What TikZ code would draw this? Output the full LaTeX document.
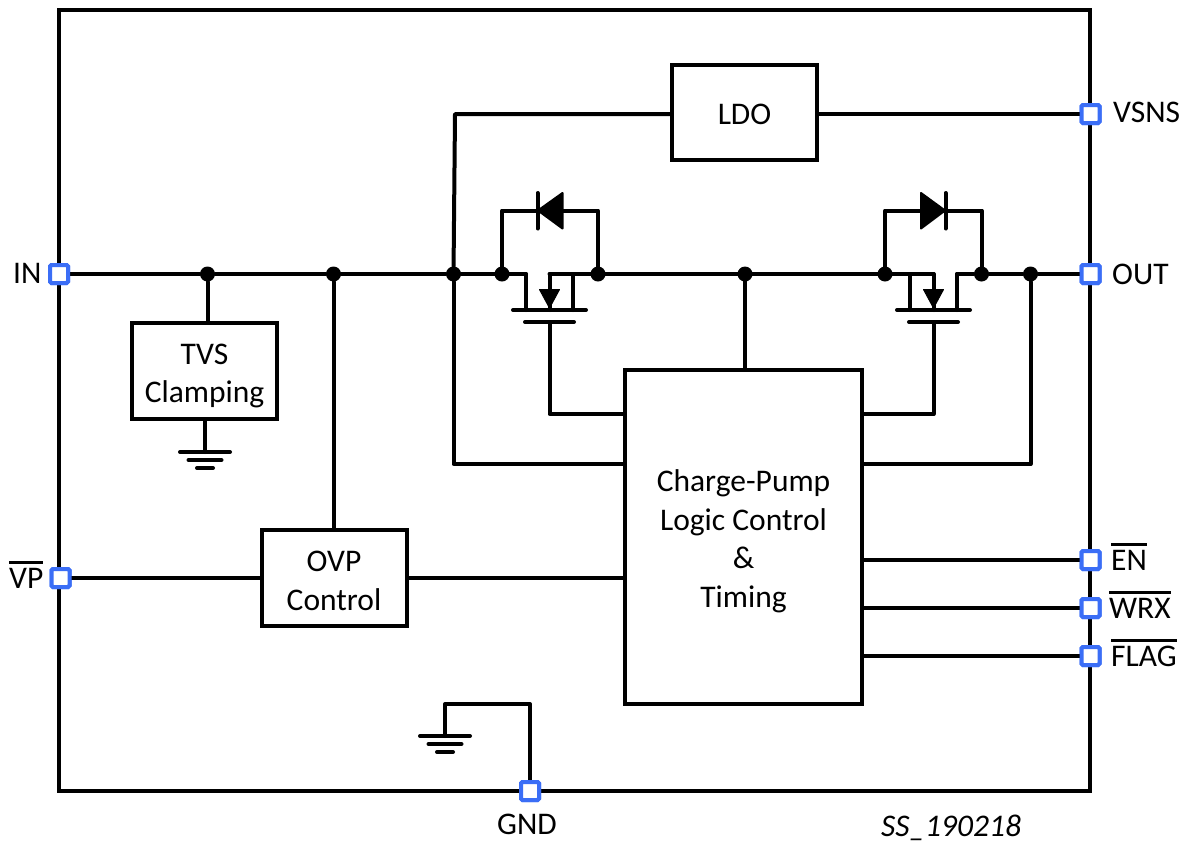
\documentclass[tikz,border=0pt]{standalone}
\usepackage{fontspec}
\setmainfont{Carlito}
\newcommand\ovl[1]{\setbox0\hbox{#1}\rlap{\rule[24pt]{\wd0}{3.5pt}}\box0}
\newcommand\tstr{\rule{0pt}{30pt}}
\definecolor{pinblue}{HTML}{3B6EF6}
\tikzset{
  wire/.style={line width=4pt,line join=round,line cap=round},
  block/.style={draw,line width=4pt,fill=white,inner sep=0pt,align=center,font=\fontsize{31.5}{38.5}\selectfont},
  pinbox/.style={draw=pinblue,line width=4pt,fill=white,rounded corners=1.5pt,minimum size=18pt,inner sep=0pt},
  dotnode/.style={circle,fill=black,minimum size=15pt,inner sep=0pt},
  lbl/.style={inner sep=0pt,anchor=base west,font=\fontsize{31.5}{36}\selectfont},
  lblc/.style={inner sep=0pt,anchor=base,font=\fontsize{31.5}{36}\selectfont},
  pics/earth/.style={code={
    \draw[wire] (-25,0) -- (25,0);
    \draw[wire] (-16.5,8) -- (16.5,8);
    \draw[wire] (-8,16) -- (8,16);
  }},
  pics/mosfet/.style={code={
    \draw[wire] (-23.5,36) -- (-23.5,0);
    \draw[wire] (23.5,36) -- (23.5,0);
    \draw[wire] (0,0) -- (0,36);
    \draw[wire] (-36.5,36) -- (36.5,36);
    \draw[wire] (-24.5,48) -- (24.5,48);
    \filldraw[line width=1pt,line join=round] (-10,15.5) -- (10,15.5) -- (0,34) -- cycle;
  }},
}
\begin{document}
\begin{tikzpicture}[x=1pt,y=-1pt]
\useasboundingbox (0,0) rectangle (1191,844);
% frame
\node[draw,line width=4pt,minimum width=1031pt,minimum height=781pt,inner sep=0pt] (frame) at (574.5,400.5) {};
% pins
\node[pinbox] (pIN) at (59,274) {};
\node[pinbox] (pVP) at (60.5,578) {};
\node[pinbox] (pVSNS) at (1090.5,114) {};
\node[pinbox] (pOUT) at (1090.5,274) {};
\node[pinbox] (pEN) at (1090.5,560) {};
\node[pinbox] (pWRX) at (1090.5,608) {};
\node[pinbox] (pFLAG) at (1090.5,656) {};
\node[pinbox] (pGND) at (530,791) {};
% blocks
\node[block,minimum width=145pt,minimum height=95pt] (ldo) at (744.5,112.5) {\rule{0pt}{24pt}LDO};
\node[block,minimum width=145pt,minimum height=96pt] (tvs) at (204.5,371) {\tstr TVS\\Clamping};
\node[block,minimum width=145pt,minimum height=96pt] (ovp) at (334,578) {\rule{0pt}{26pt}OVP\\Control};
\node[block,minimum width=237pt,minimum height=334pt] (cp) at (743.5,537) {\tstr Charge-Pump\\Logic Control\\\&\\Timing};
% junctions
\node[dotnode] (d1) at (207.5,274) {};
\node[dotnode] (d2) at (333.5,274) {};
\node[dotnode] (d3) at (453.5,274) {};
\node[dotnode] (d4) at (502,274) {};
\node[dotnode] (d5) at (598,274) {};
\node[dotnode] (d6) at (745,274) {};
\node[dotnode] (d7) at (885,274) {};
\node[dotnode] (d8) at (981.5,274) {};
\node[dotnode] (d9) at (1030.5,274) {};
% helper points
\coordinate (ldoc) at (455,114);
\coordinate (m1d) at (526,274);
\coordinate (m1s) at (549.5,274);
\coordinate (m2d) at (933.5,274);
\coordinate (m2s) at (957,274);
\coordinate (g1) at (549.5,322);
\coordinate (g2) at (933.5,322);
\coordinate (tvsg) at (205,452);
\coordinate (gndg) at (445,736);
\coordinate (gndc) at (445,704);
\coordinate (dtop1) at (537.5,210.5);
\coordinate (dtop2) at (945.5,210.5);
% main rail
\draw[wire] (pIN) -- (d1) -- (d2) -- (d3) -- (d4) -- (m1d);
\draw[wire] (m1s) -- (d5) -- (d6) -- (d7) -- (m2d);
\draw[wire] (m2s) -- (d8) -- (d9) -- (pOUT);
% diode bypass 1
\draw[wire] (d4) |- (dtop1) -| (d5);
\draw[wire] (537.5,193) -- (537.5,228.5);
\fill[line join=round,draw,line width=2pt] (538,210.5) -- (562.5,193) -- (562.5,228.5) -- cycle;
% diode bypass 2
\draw[wire] (d7) |- (dtop2) -| (d8);
\draw[wire] (945.5,193) -- (945.5,228.5);
\fill[line join=round,draw,line width=2pt] (945,210.5) -- (921,193) -- (921,228.5) -- cycle;
% mosfets
\pic at (549.5,274) {mosfet};
\pic at (933.5,274) {mosfet};
% gates
\draw[wire] (g1) |- (cp.west |- 0,414);
\draw[wire] (g2) |- (cp.east |- 0,414);
% connections
\draw[wire] (ldo.east |- pVSNS) -- (pVSNS);
\draw[wire] (ldo.west |- ldoc) -- (ldoc) -- (d3);
\draw[wire] (d3) |- (cp.west |- 0,464);
\draw[wire] (d9) |- (cp.east |- 0,464);
\draw[wire] (d6) -- (cp.north -| d6);
\draw[wire] (d1) -- (tvs.north -| d1);
\draw[wire] (tvs.south -| tvsg) -- (tvsg);
\pic at (tvsg) {earth};
\draw[wire] (d2) -- (ovp.north -| d2);
\draw[wire] (pVP) -- (ovp.west);
\draw[wire] (ovp.east) -- (cp.west |- ovp.east);
\draw[wire] (cp.east |- pEN) -- (pEN);
\draw[wire] (cp.east |- pWRX) -- (pWRX);
\draw[wire] (cp.east |- pFLAG) -- (pFLAG);
\draw[wire] (pGND) |- (gndc) -- (gndg);
\pic at (gndg) {earth};
% redraw pins above wires
\node[pinbox] at (pIN) {};
\node[pinbox] at (pVP) {};
\node[pinbox] at (pVSNS) {};
\node[pinbox] at (pOUT) {};
\node[pinbox] at (pEN) {};
\node[pinbox] at (pWRX) {};
\node[pinbox] at (pFLAG) {};
\node[pinbox] at (pGND) {};
% labels
\node[lbl] (tIN) at (13,283) {IN};
\node[lbl] (tVP) at (9,588) {\ovl{VP}};
\node[lbl] (tVSNS) at (1113,122) {VSNS};
\node[lbl] (tOUT) at (1112,284) {OUT};
\node[lbl] (tEN) at (1111,570) {\ovl{EN}};
\node[lbl] (tWRX) at (1109,618) {\ovl{WRX}};
\node[lbl] (tFLAG) at (1111,666) {\ovl{FLAG}};
\node[lblc] (tGND) at (527,834) {GND};
\node[lblc] (tSS) at (951,836) {\itshape SS\_190218};
\end{tikzpicture}
\end{document}
